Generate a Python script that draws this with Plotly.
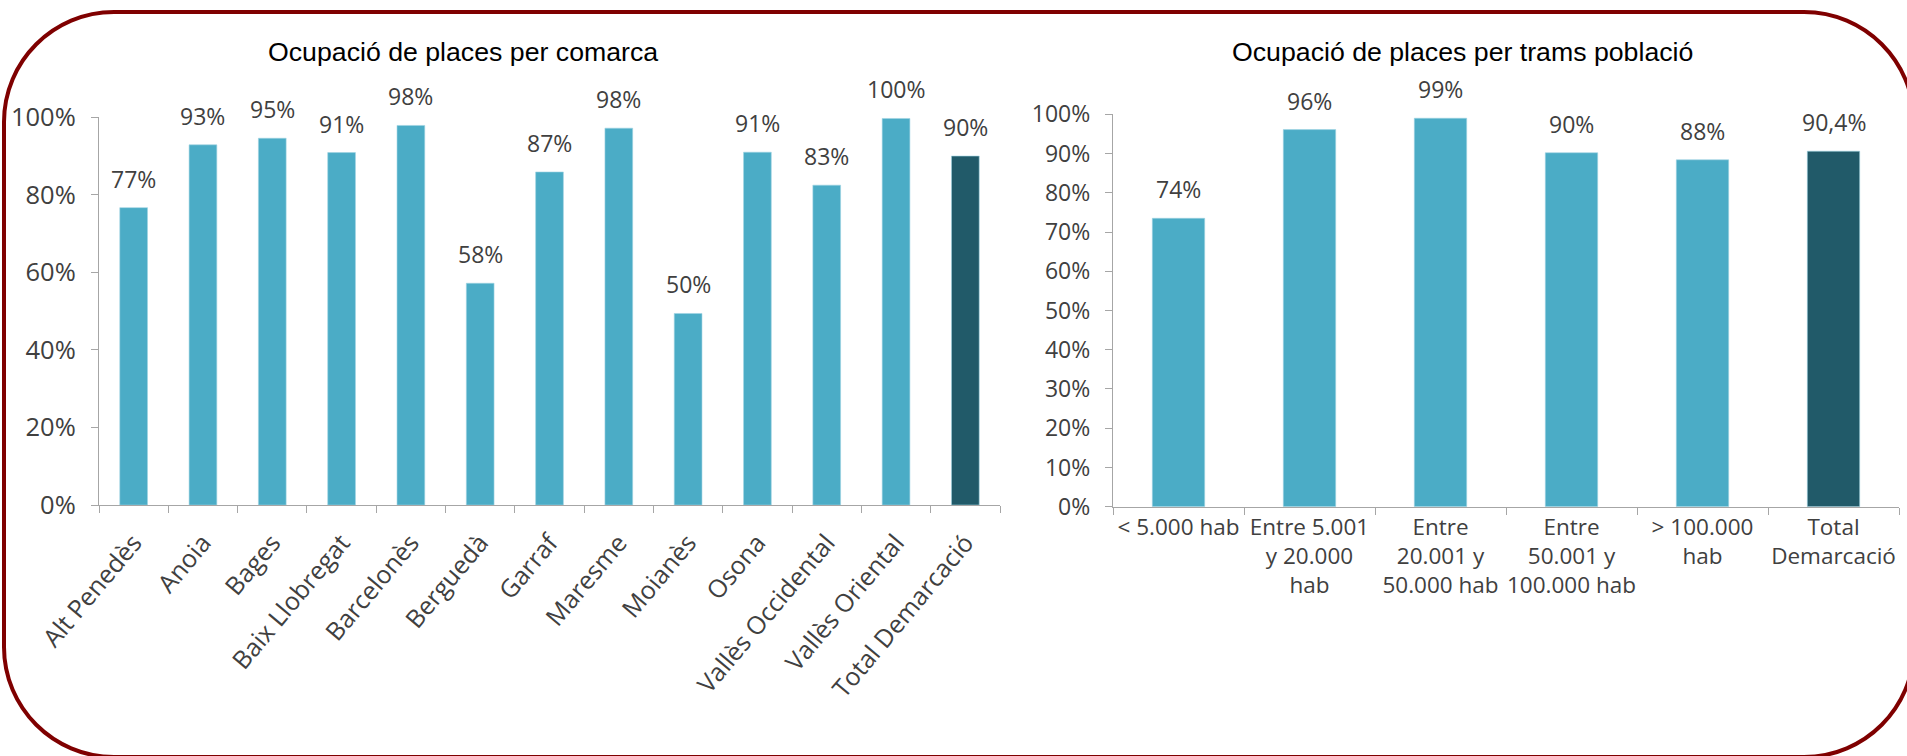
import plotly.graph_objects as go

# ---------------- data ----------------
comarques = ["Alt Penedès", "Anoia", "Bages", "Baix Llobregat", "Barcelonès", "Berguedà",
             "Garraf", "Maresme", "Moianès", "Osona", "Vallès Occidental", "Vallès Oriental",
             "Total Demarcació"]
ocup_comarca = [0.767, 0.929, 0.946, 0.909, 0.979, 0.572, 0.859, 0.972, 0.494, 0.910, 0.825, 0.997, 0.900]
labels_comarca = ["77%", "93%", "95%", "91%", "98%", "58%", "87%", "98%", "50%", "91%", "83%", "100%", "90%"]

trams = ["< 5.000 hab", "Entre 5.001 y 20.000 hab", "Entre 20.001 y 50.000 hab",
         "Entre 50.001 y 100.000 hab", "> 100.000 hab", "Total Demarcació"]
trams_ticktext = ["&lt; 5.000 hab", "Entre 5.001<br>y 20.000<br>hab", "Entre<br>20.001 y<br>50.000 hab",
                  "Entre<br>50.001 y<br>100.000 hab", "&gt; 100.000<br>hab", "Total<br>Demarcació"]
ocup_trams = [0.735, 0.961, 0.990, 0.902, 0.884, 0.906]
labels_trams = ["74%", "96%", "99%", "90%", "88%", "90,4%"]

title_left = "Ocupació de places per comarca"
title_right = "Ocupació de places per trams població"

# ---------------- style ----------------
W, H = 1907, 756
LIGHT = "#4BACC6"
DARK = "#215A69"
AXIS = "#A6A6A6"
TXT = "#404040"
FONT = "Open Sans"


def px(x):
    return x / W


def py(y):
    return 1 - y / H


def colors(n):
    return [LIGHT] * (n - 1) + [DARK]


fig = go.Figure()
fig.add_trace(go.Bar(x=comarques, y=ocup_comarca, marker=dict(color=colors(len(comarques)),
                     line=dict(color="#9FD3E3", width=0.6)),
                     xaxis="x", yaxis="y", showlegend=False, hoverinfo="skip"))
fig.add_trace(go.Bar(x=trams, y=ocup_trams, marker=dict(color=colors(len(trams)),
                     line=dict(color="#9FD3E3", width=0.6)),
                     xaxis="x2", yaxis="y2", showlegend=False, hoverinfo="skip"))

annotations = []
for c, v, t in zip(comarques, ocup_comarca, labels_comarca):
    annotations.append(dict(x=c, y=v, xref="x", yref="y", text=t, showarrow=False,
                            yanchor="bottom", yshift=11, font=dict(family=FONT, size=23, color=TXT)))
for c, v, t in zip(trams, ocup_trams, labels_trams):
    annotations.append(dict(x=c, y=v, xref="x2", yref="y2", text=t, showarrow=False,
                            yanchor="bottom", yshift=11, font=dict(family=FONT, size=23, color=TXT)))
annotations.append(dict(x=px(463), y=py(52), xref="paper", yref="paper", text=title_left,
                        showarrow=False, xanchor="center", yanchor="middle",
                        font=dict(family="Liberation Sans", size=26.7, color="#000000")))
annotations.append(dict(x=px(1462), y=py(52), xref="paper", yref="paper", text=title_right,
                        showarrow=False, xanchor="center", yanchor="middle",
                        font=dict(family="Liberation Sans", size=26.7, color="#000000")))

# rounded border (pixel geometry -> paper)
x0, x1, y0, y1, r = 4, 1914, 12, 757, 110
k = 0.5523 * r
pts = [
    f"M {px(x0 + r)} {py(y0)}",
    f"L {px(x1 - r)} {py(y0)}",
    f"C {px(x1 - r + k)} {py(y0)} {px(x1)} {py(y0 + r - k)} {px(x1)} {py(y0 + r)}",
    f"L {px(x1)} {py(y1 - r)}",
    f"C {px(x1)} {py(y1 - r + k)} {px(x1 - r + k)} {py(y1)} {px(x1 - r)} {py(y1)}",
    f"L {px(x0 + r)} {py(y1)}",
    f"C {px(x0 + r - k)} {py(y1)} {px(x0)} {py(y1 - r + k)} {px(x0)} {py(y1 - r)}",
    f"L {px(x0)} {py(y0 + r)}",
    f"C {px(x0)} {py(y0 + r - k)} {px(x0 + r - k)} {py(y0)} {px(x0 + r)} {py(y0)}",
    "Z",
]
shapes = [dict(type="path", xref="paper", yref="paper", path=" ".join(pts),
               line=dict(color="#7F0000", width=4), fillcolor="rgba(0,0,0,0)")]

xcommon = dict(showline=True, linecolor=AXIS, linewidth=1.3, ticks="outside", ticklen=7,
               tickcolor=AXIS, tickson="boundaries", showgrid=False, automargin=False,
               tickfont=dict(family=FONT, size=23, color=TXT), fixedrange=True)
ycommon = dict(showline=True, linecolor=AXIS, linewidth=1.3, ticks="outside", ticklen=7,
               tickcolor=AXIS, showgrid=False, zeroline=False, automargin=False, range=[0, 1],
               tickformat=".0%", tickfont=dict(family=FONT, size=23, color=TXT), fixedrange=True)

fig.update_layout(
    width=W, height=H, margin=dict(l=0, r=0, t=0, b=0),
    paper_bgcolor="white", plot_bgcolor="white", bargap=0.6,
    xaxis=dict(xcommon, domain=[px(99), px(1000)], anchor="y", tickangle=-50,
               ticklabelstandoff=12, tickfont=dict(family=FONT, size=25, color=TXT)),
    yaxis=dict(ycommon, domain=[py(505), py(117.3)], anchor="x", dtick=0.2, ticklabelstandoff=10,
               tickfont=dict(family=FONT, size=25.5, color=TXT)),
    xaxis2=dict(xcommon, domain=[px(1113), px(1899)], anchor="y2", tickangle=0,
                tickmode="array", tickvals=trams, ticktext=trams_ticktext,
                tickfont=dict(family=FONT, size=22.5, color=TXT)),
    yaxis2=dict(ycommon, domain=[py(506.7), py(114.3)], anchor="x2", dtick=0.1, ticklabelstandoff=10),
    annotations=annotations, shapes=shapes,
)

fig.write_html("out.html", config={"displayModeBar": False},
               post_script="document.body.style.margin='0';document.body.style.overflow='hidden';")
